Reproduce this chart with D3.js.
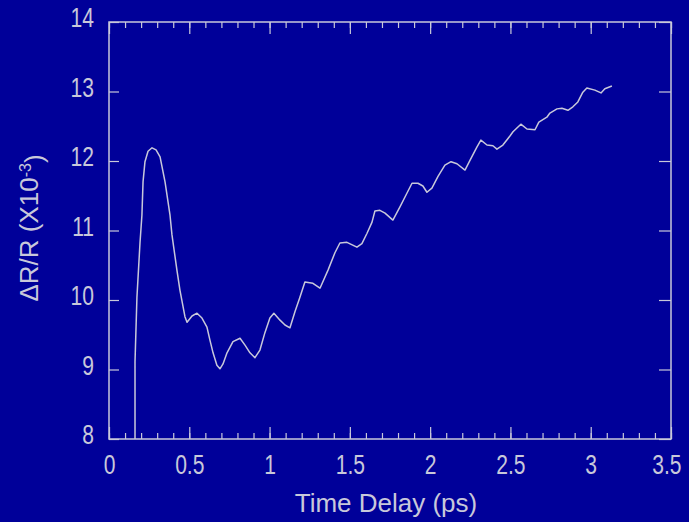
<!DOCTYPE html>
<html>
<head>
<meta charset="utf-8">
<script src="https://cdn.jsdelivr.net/npm/d3@7"></script>
<style>
  html, body { margin: 0; padding: 0; background: #000099; }
  svg { display: block; }
  .tick text { font-family: "Liberation Sans Narrow", "Liberation Sans", Arial, sans-serif; }
</style>
</head>
<body>
<div id="chart"></div>
<script>
// time delay (ps)
const delay = [0.162, 0.162, 0.174, 0.193, 0.205, 0.212, 0.224, 0.243, 0.268, 0.293, 0.318, 0.349, 0.380, 0.392,
  0.423, 0.442, 0.473, 0.486, 0.517, 0.548, 0.579, 0.610, 0.629, 0.648, 0.672, 0.691, 0.710, 0.735, 0.772,
  0.816, 0.847, 0.878, 0.909, 0.940, 0.971, 1.002, 1.027, 1.065, 1.096, 1.127, 1.158, 1.189, 1.220, 1.270,
  1.314, 1.364, 1.407, 1.438, 1.482, 1.544, 1.575, 1.607, 1.638, 1.656, 1.687, 1.719, 1.768, 1.812, 1.856,
  1.887, 1.924, 1.955, 1.980, 2.011, 2.049, 2.092, 2.130, 2.167, 2.217, 2.248, 2.291, 2.316, 2.354, 2.391,
  2.416, 2.453, 2.497, 2.516, 2.565, 2.603, 2.653, 2.677, 2.727, 2.746, 2.790, 2.821, 2.858, 2.889, 2.920,
  2.951, 2.976, 3.026, 3.064, 3.088, 3.132];
// dR/R (x10^-3)
const reflect = [8.00, 9.11, 10.04, 10.82, 11.22, 11.70, 11.99, 12.14, 12.19, 12.16, 12.06, 11.70, 11.22, 10.94,
  10.43, 10.14, 9.76, 9.68, 9.77, 9.81, 9.74, 9.61, 9.42, 9.24, 9.06, 9.01, 9.08, 9.24, 9.40,
  9.45, 9.35, 9.24, 9.17, 9.28, 9.53, 9.74, 9.81, 9.71, 9.64, 9.60, 9.83, 10.04, 10.26, 10.24,
  10.17, 10.43, 10.68, 10.82, 10.83, 10.76, 10.81, 10.96, 11.12, 11.28, 11.29, 11.25, 11.15, 11.34, 11.54,
  11.68, 11.68, 11.64, 11.55, 11.61, 11.78, 11.94, 11.99, 11.96, 11.87, 12.01, 12.20, 12.30, 12.23, 12.22,
  12.17, 12.23, 12.36, 12.42, 12.53, 12.46, 12.45, 12.56, 12.63, 12.69, 12.75, 12.76, 12.73, 12.78, 12.85,
  12.99, 13.05, 13.02, 12.98, 13.04, 13.08];

const xTicks = [0, 0.5, 1, 1.5, 2, 2.5, 3, 3.5];
const xMinorTicks = d3.range(0, 3.55, 0.1);
const yTicks = [8, 9, 10, 11, 12, 13, 14];

const width = 689, height = 522;
const margin = { top: 22, right: 18, bottom: 83, left: 109 };
const fg = '#c8c8da';

const svg = d3.select('#chart')
  .append('svg')
  .attr('width', width)
  .attr('height', height)
  .style('background', '#000099');

const w = width - margin.left - margin.right;
const h = height - margin.top - margin.bottom;

const g = svg.append('g')
  .attr('transform', `translate(${margin.left},${margin.top})`);

const x = d3.scaleLinear().domain([0, 3.5]).range([0, w]);
const y = d3.scaleLinear().domain([8, 14]).range([h, 0]);

function styleAxis(sel) {
  sel.select('.domain').remove();
  sel.selectAll('line').attr('stroke', fg).attr('stroke-width', 1.2);
  sel.selectAll('text').attr('fill', fg).style('font-size', '27px');
}

// squeeze tick labels a bit, the original font is narrow
function narrow(sel) {
  sel.selectAll('text').each(function() {
    const len = this.getComputedTextLength();
    if (len > 0) {
      d3.select(this)
        .attr('textLength', len * 0.78)
        .attr('lengthAdjust', 'spacingAndGlyphs');
    }
  });
}

// minor ticks, bottom and top
g.append('g')
  .attr('transform', `translate(0,${h})`)
  .call(d3.axisBottom(x).tickValues(xMinorTicks).tickSize(-6).tickFormat(''))
  .call(styleAxis);
g.append('g')
  .call(d3.axisTop(x).tickValues(xMinorTicks).tickSize(-6).tickFormat(''))
  .call(styleAxis);

// major ticks
const xAxisG = g.append('g')
  .attr('transform', `translate(0,${h})`)
  .call(d3.axisBottom(x).tickValues(xTicks).tickSize(-12).tickPadding(16).tickFormat(d3.format('~g')))
  .call(styleAxis)
  .call(narrow);
// last label sits on the page edge, pin its right side inside
xAxisG.selectAll('.tick text').filter(d => d === 3.5)
  .attr('text-anchor', 'end')
  .attr('x', 10);

g.append('g')
  .call(d3.axisTop(x).tickValues(xTicks).tickSize(-12).tickFormat(''))
  .call(styleAxis);

g.append('g')
  .call(d3.axisLeft(y).tickValues(yTicks).tickSize(-10).tickPadding(15).tickFormat(d3.format('d')))
  .call(styleAxis)
  .call(narrow)
  .selectAll('text').attr('dy', '0.18em');
g.append('g')
  .attr('transform', `translate(${w},0)`)
  .call(d3.axisRight(y).tickValues(yTicks).tickSize(-12).tickFormat(''))
  .call(styleAxis);

// frame
g.append('rect')
  .attr('x', 0).attr('y', 0)
  .attr('width', w).attr('height', h)
  .attr('fill', 'none')
  .attr('stroke', fg)
  .attr('stroke-width', 1.5);

// data line
const pts = delay.map((d, i) => [d, reflect[i]]);
const line = d3.line()
  .x(d => x(d[0]))
  .y(d => y(d[1]));

g.append('path')
  .datum(pts)
  .attr('fill', 'none')
  .attr('stroke', fg)
  .attr('stroke-width', 1.5)
  .attr('stroke-linejoin', 'round')
  .attr('d', line);

// axis titles
svg.append('text')
  .attr('x', margin.left + x(1.725))
  .attr('y', 512)
  .attr('text-anchor', 'middle')
  .attr('fill', fg)
  .style('font-family', '"Liberation Sans", Arial, sans-serif')
  .style('font-size', '26px')
  .text('Time Delay (ps)');

const yl = svg.append('text')
  .attr('transform', 'translate(38,228) rotate(-90)')
  .attr('text-anchor', 'middle')
  .attr('fill', fg)
  .style('font-family', '"Liberation Sans", Arial, sans-serif')
  .style('font-size', '26px');
yl.append('tspan').text('\u0394R/R (X10');
yl.append('tspan').attr('dy', '-0.45em').style('font-size', '16px').text('-3');
yl.append('tspan').attr('dy', '0.45em').text(')');
</script>
</body>
</html>
